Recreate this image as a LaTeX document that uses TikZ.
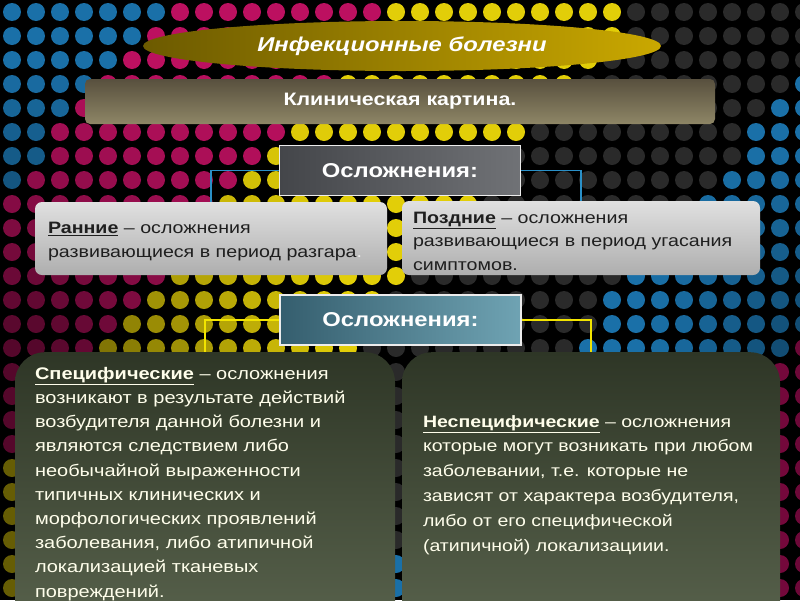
\documentclass[tikz,border=0pt]{standalone}
\usepackage{fontspec}
\setmainfont{Liberation Sans}[FakeStretch=1.19]
\usetikzlibrary{positioning,calc,shapes.geometric}

\definecolor{band0}{HTML}{1A70A8}
\definecolor{band1}{HTML}{BC1060}
\definecolor{band2}{HTML}{E2CE08}
\definecolor{band3}{HTML}{2A2A2A}
\definecolor{band4}{HTML}{1A70A8}
\definecolor{band5}{HTML}{A80C56}
\definecolor{linkblue}{HTML}{2A90C8}
\definecolor{linkyellow}{HTML}{F2E400}
\definecolor{palegray}{HTML}{E0E0E0}
\definecolor{midgray}{HTML}{AEAEAE}
\definecolor{darkolive}{HTML}{2E3626}
\definecolor{lightolive}{HTML}{5A644E}
\definecolor{goldleft}{HTML}{6C5A00}
\definecolor{goldright}{HTML}{CAA800}
\definecolor{bartop}{HTML}{58503E}
\definecolor{barbottom}{HTML}{8E8666}
\definecolor{slateleft}{HTML}{44464A}
\definecolor{slateright}{HTML}{707276}
\definecolor{tealleft}{HTML}{355E6E}
\definecolor{tealright}{HTML}{6FA3B3}

\begin{document}
\begin{tikzpicture}[x=1pt,y=-1pt,
  titleshape/.style={ellipse,inner sep=0pt,minimum width=518pt,minimum height=50pt,
    left color=goldleft,right color=goldright,
    text=white,font=\fontsize{20}{24}\selectfont\bfseries\itshape},
  barshape/.style={rectangle,rounded corners=5pt,inner sep=0pt,
    top color=bartop,bottom color=barbottom,
    text=white,font=\fontsize{18}{20}\selectfont\bfseries},
  headbox/.style={rectangle,draw=white!85!gray,line width=1.3pt,inner sep=0pt,
    minimum width=241pt,minimum height=50pt,text=white,
    font=\fontsize{20}{22}\selectfont\bfseries},
  graybox/.style={rectangle,rounded corners=7pt,inner sep=0pt,
    top color=palegray,bottom color=midgray},
  olivebox/.style={rectangle,rounded corners=30pt,inner sep=0pt,
    top color=darkolive,bottom color=lightolive},
  darktext/.style={inner sep=0pt,align=left,text=black!88,
    font=\fontsize{16.5}{24}\selectfont},
  lighttext/.style={inner sep=0pt,align=left,text=white!92!yellow,
    font=\fontsize{16.8}{24.2}\selectfont},
  link/.style={line width=1.6pt}]

\clip (0,0) rectangle (800,600);
\fill[black] (0,0) rectangle (800,600);

% dotted background
\foreach \i in {0,...,33}{
  \foreach \j in {0,...,24}{
    \pgfmathsetmacro{\cx}{12+24*\i}
    \pgfmathsetmacro{\cy}{12+24*\j}
    \pgfmathsetmacro{\s}{\cx+0.85*\cy}
    \pgfmathtruncatemacro{\band}{(\s<170)?0:((\s<400)?1:((\s<645)?2:((\s<865)?3:((\s<1090)?4:5))))}
    \pgfmathtruncatemacro{\shade}{(\band==3)?100:(100-55*min(1,max(0,(\cy-60)/280))*min(1,max(0,(340-\cx)/300))-35*min(1,max(0,(\cx-650)/150))*min(1,max(0,(\cy-150)/200)))}
    \fill[band\band!\shade!black] (\cx,\cy) circle (9pt);
  }
}

% boxes
\node[titleshape] (title) at (402,46) {Инфекционные болезни};
\node[barshape,minimum width=630pt,minimum height=45pt] (clinic) at (400,101.5) {Клиническая картина.};
\node[headbox,left color=slateleft,right color=slateright] (compl) at (400,170.5) {Осложнения:};
\node[graybox,minimum width=352pt,minimum height=73pt] (early) at (211,238.5) {};
\node[graybox,minimum width=358pt,minimum height=74pt] (late) at (581,238) {};
\node[headbox,left color=tealleft,right color=tealright] (kind) at (400.5,320) {Осложнения:};
\node[olivebox,minimum width=380pt,minimum height=290pt,anchor=north] (spec) at (205,352) {};
\node[olivebox,minimum width=378pt,minimum height=290pt,anchor=north] (nonspec) at (591,352) {};

% texts
\node[darktext,anchor=west] (earlytext) at ($(early.west)+(13,3)$)
  {\underline{\textbf{Ранние}} – осложнения\\развивающиеся в период разгара{\color{white!85!gray}.}};
\node[darktext,anchor=west,font=\fontsize{16.5}{23.5}\selectfont] (latetext) at ($(late.west)+(11,3)$)
  {\underline{\textbf{Поздние}} – осложнения\\развивающиеся в период угасания\\симптомов.};
\node[lighttext,anchor=north west] (spectext) at ($(spec.north west)+(20,15)$)
  {\underline{\textbf{Специфические}} – осложнения\\возникают в результате действий\\возбудителя данной болезни и\\являются следствием либо\\необычайной выраженности\\типичных клинических и\\морфологических проявлений\\заболевания, либо атипичной\\локализацией тканевых\\повреждений.};
\node[lighttext,anchor=north west,font=\fontsize{16.4}{24.8}\selectfont] (nonspectext) at ($(nonspec.north west)+(21,63)$)
  {\underline{\textbf{Неспецифические}} – осложнения\\которые могут возникать при любом\\заболевании, т.е. которые не\\зависят от характера возбудителя,\\либо от его специфической\\(атипичной) локализациии.};

% connectors
\draw[link,linkblue] (compl.west) -| (early.north);
\draw[link,linkblue] (compl.east) -| (late.north);
\draw[link,linkyellow,line width=2.6pt] (kind.west) -| (spec.north);
\draw[link,linkyellow,line width=2.6pt] (kind.east) -| (nonspec.north);

\end{tikzpicture}
\end{document}
